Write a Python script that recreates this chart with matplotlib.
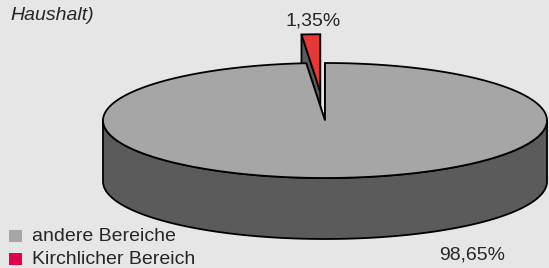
import numpy as np
import matplotlib.pyplot as plt
from matplotlib.patches import Polygon, Rectangle

# data
labels = ['andere Bereiche', 'Kirchlicher Bereich']
values = [98.65, 1.35]
pct_text = ['98,65%', '1,35%']
top_colors = ['#a6a6a6', '#e53935']
legend_colors = ['#a6a6a6', '#e0004d']
side_color = '#5b5b5b'
bg = '#e6e6e6'
txt = '#262626'
font = 'Liberation Sans'

# pie geometry in pixels (y down)
cx, cy = 325, 120.5
a, b = 222, 57.5
depth = 61
explode = [0.0, 0.5]

fig = plt.figure(figsize=(5.49, 2.68), dpi=100, facecolor=bg)
ax = fig.add_axes([0, 0, 1, 1])
ax.set_xlim(0, 549)
ax.set_ylim(268, 0)
ax.axis('off')
ax.set_facecolor(bg)


def pt(theta, ox, oy, dz=0.0):
    t = np.radians(theta)
    return cx + ox + a * np.cos(t), cy + oy - b * np.sin(t) + dz


# slice angles, counterclockwise starting at the top: red first, then grey
total = sum(values)
spans = {}
th = 90.0
for i in [1, 0]:
    span = 360.0 * values[i] / total
    spans[i] = (th, th + span)
    th += span

lw = 1.3


def draw_slice(i, z):
    t0, t1 = spans[i]
    mid = np.radians((t0 + t1) / 2)
    ox = a * explode[i] * np.cos(mid)
    oy = -b * explode[i] * np.sin(mid)
    c = (cx + ox, cy + oy)
    # radial side faces
    for tt in (t0, t1):
        p = pt(tt, ox, oy)
        face = [c, p, (p[0], p[1] + depth), (c[0], c[1] + depth)]
        ax.add_patch(Polygon(face, closed=True, fc=side_color, ec='black', lw=lw, zorder=z))
    # outer wall, front part only (180..360)
    lo, hi = max(t0, 180), min(t1, 360)
    if hi > lo:
        ang = np.linspace(lo, hi, 200)
        top = [pt(t, ox, oy) for t in ang]
        bot = [pt(t, ox, oy, depth) for t in ang[::-1]]
        ax.add_patch(Polygon(top + bot, closed=True, fc=side_color, ec='black', lw=lw, zorder=z + 1))
    # top face
    ang = np.linspace(t0, t1, 400)
    poly = [c] + [pt(t, ox, oy) for t in ang]
    ax.add_patch(Polygon(poly, closed=True, fc=top_colors[i], ec='black', lw=lw, zorder=z + 2))


draw_slice(1, 1)
draw_slice(0, 5)

# percentage labels
ax.text(313.5, 25, pct_text[1], ha='center', va='baseline', fontsize=14,
        family=font, color=txt)
ax.text(439, 260, pct_text[0], ha='left', va='baseline', fontsize=14,
        family=font, color=txt)

# title fragment (first line is cut off by the frame)
ax.text(10, 20, 'Haushalt)', ha='left', va='baseline', fontsize=14, style='italic',
        family=font, color=txt)

# legend
for k, (lab, col) in enumerate(zip(labels, legend_colors)):
    base = 241 + 23 * k
    ax.add_patch(Rectangle((9, base - 11), 13, 12, fc=col, ec='none', zorder=10))
    ax.text(32, base, lab, ha='left', va='baseline', fontsize=14,
            family=font, color=txt)

fig.savefig('out.png', dpi=100, facecolor=bg)
